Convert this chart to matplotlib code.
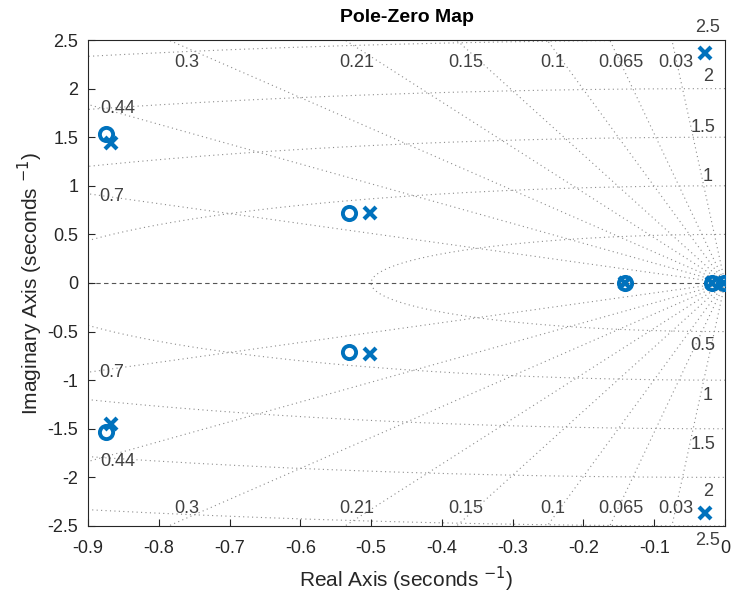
import numpy as np
import matplotlib
matplotlib.use("Agg")
import matplotlib.pyplot as plt

plt.rcParams['font.family'] = ['Liberation Sans', 'DejaVu Sans']

# Data
zeros_re = [-0.875, -0.875, -0.531, -0.531, -0.141, -0.018, -0.002]
zeros_im = [1.533, -1.533, 0.72, -0.71, 0.0, 0.0, 0.0]
poles_re = [-0.867, -0.867, -0.502, -0.502, -0.028, -0.028, -0.141, -0.019, -0.001]
poles_im = [1.44, -1.45, 0.72, -0.73, 2.37, -2.37, 0.0, 0.0, 0.0]

zetas = [0.03, 0.065, 0.1, 0.15, 0.21, 0.3, 0.44, 0.7]
wns = [0.5, 1.0, 1.5, 2.0, 2.5]

zeta_labels = ["0.3", "0.21", "0.15", "0.1", "0.065", "0.03"]
zeta_label_x = [-0.760, -0.520, -0.366, -0.244, -0.147, -0.069]
zeta_label_y = 2.27
zeta_side_labels = ["0.44", "0.7"]
zeta_side_x = [-0.858, -0.866]
zeta_side_y = [1.80, 0.885]

wn_labels_top = ["2.5", "2", "1.5", "1"]
wn_top_x = [-0.025, -0.024, -0.031, -0.024]
wn_top_y = [2.63, 2.12, 1.595, 1.10]
wn_labels_bot = ["0.5", "1", "1.5", "2", "2.5"]
wn_bot_x = [-0.031, -0.024, -0.031, -0.024, -0.025]
wn_bot_y = [-0.64, -1.16, -1.66, -2.15, -2.65]

xticks = np.round(np.arange(-0.9, 0.01, 0.1), 1)
yticks = np.round(np.arange(-2.5, 2.51, 0.5), 1)

fig = plt.figure(figsize=(7.31, 5.99), dpi=100)
ax = fig.add_axes([0.1204, 0.1219, 0.8714, 0.8113])

gcol = '#8c8c8c'
glab = '#404040'
# spokes
for z in zetas:
    wd = np.sqrt(1 - z**2)
    r = np.array([0, 10])
    for s in (1, -1):
        ax.plot(-z * r, s * wd * r, ls=(0, (1, 3)), color=gcol, lw=0.8, zorder=1)
# circles
th = np.linspace(np.pi / 2, 3 * np.pi / 2, 600)
for w in wns:
    ax.plot(w * np.cos(th), w * np.sin(th), ls=(0, (1, 3)), color=gcol, lw=0.8, zorder=1)
# real axis dashed
ax.plot([-0.9, 0], [0, 0], ls=(0, (4, 3)), color='#555555', lw=0.8, zorder=1)

fs_g = 13
for lab, x in zip(zeta_labels, zeta_label_x):
    ax.text(x, zeta_label_y, lab, ha='center', va='center', fontsize=fs_g, color=glab, clip_on=False)
    ax.text(x, -zeta_label_y - 0.055, lab, ha='center', va='center', fontsize=fs_g, color=glab, clip_on=False)
for lab, x, y in zip(zeta_side_labels, zeta_side_x, zeta_side_y):
    ax.text(x, y, lab, ha='center', va='center', fontsize=fs_g, color=glab)
    ax.text(x, -y - 0.04, lab, ha='center', va='center', fontsize=fs_g, color=glab)
for lab, x, y in zip(wn_labels_top, wn_top_x, wn_top_y):
    ax.text(x, y, lab, ha='center', va='center', fontsize=fs_g, color=glab, clip_on=False)
for lab, x, y in zip(wn_labels_bot, wn_bot_x, wn_bot_y):
    ax.text(x, y, lab, ha='center', va='center', fontsize=fs_g, color=glab, clip_on=False)

blue = '#0072BD'
ax.plot(zeros_re, zeros_im, 'o', ms=9.5, mfc='none', mec=blue, mew=2.8, ls='none', zorder=3)
ax.plot(poles_re, poles_im, 'x', ms=8, mec=blue, mew=3.0, ls='none', zorder=3)

ax.set_xlim(-0.9, 0)
ax.set_ylim(-2.5, 2.5)
ax.set_xticks(xticks)
ax.set_xticklabels([('%g' % t) if t != 0 else '0' for t in xticks])
ax.set_yticks(yticks)
ax.set_yticklabels(['%g' % t for t in yticks])
ax.tick_params(direction='in', length=5, width=0.8, colors='#262626', labelsize=13)
ax.tick_params(axis='x', pad=10)
ax.tick_params(axis='y', pad=7)
for sp in ax.spines.values():
    sp.set_color('#262626')
    sp.set_linewidth(0.8)

ax.set_xlabel('Real Axis (seconds $^{-1}$)', fontsize=15, color='#262626', labelpad=6)
ax.set_ylabel('Imaginary Axis (seconds $^{-1}$)', fontsize=15, color='#262626', labelpad=2)
ax.set_title('Pole-Zero Map', fontsize=14, fontweight='bold', pad=13)

fig.savefig('out.png', dpi=100)
